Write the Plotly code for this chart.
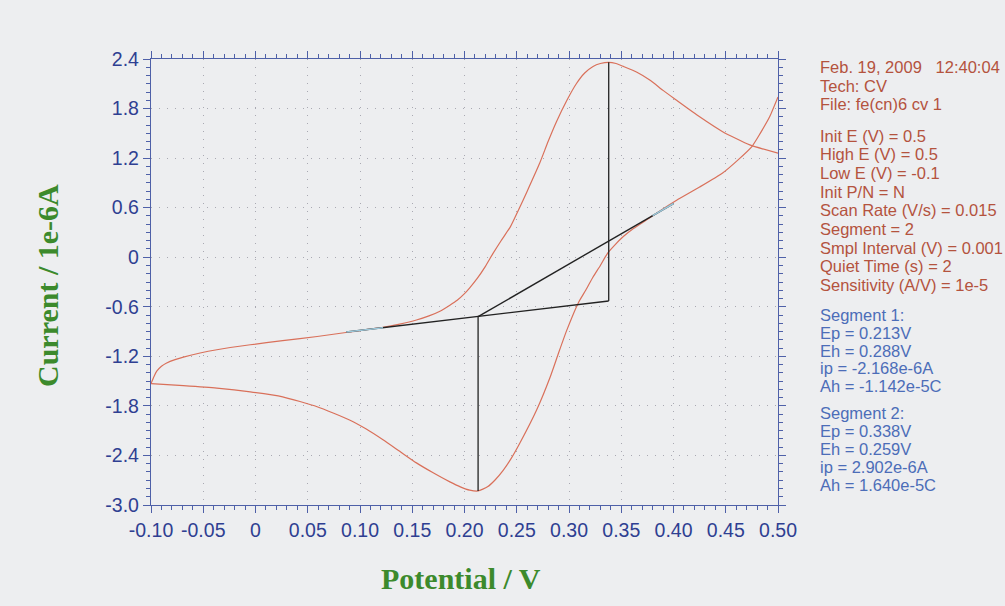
import plotly.graph_objects as go

# ---------------- data ----------------
# Segment 1 (scan 0.5 V -> -0.1 V), current in 1e-6 A
seg1_E = [0.500, 0.492, 0.483, 0.475, 0.461, 0.447, 0.425, 0.403, 0.388, 0.374, 0.362, 0.352,
          0.344, 0.337, 0.330, 0.323, 0.316, 0.309, 0.298, 0.290, 0.282, 0.269, 0.253, 0.245,
          0.237, 0.229, 0.222, 0.213, 0.205, 0.196, 0.186, 0.170, 0.154, 0.138, 0.122, 0.106,
          0.090, 0.059, 0.026, -0.005, -0.037, -0.069, -0.100]
seg1_I = [1.94, 1.70, 1.50, 1.34, 1.17, 1.02, 0.85, 0.69, 0.57, 0.45, 0.35, 0.25,
          0.15, 0.05, -0.10, -0.24, -0.40, -0.55, -0.88, -1.16, -1.45, -1.85, -2.25, -2.43,
          -2.58, -2.70, -2.78, -2.83, -2.82, -2.78, -2.72, -2.61, -2.49, -2.35, -2.21, -2.08,
          -1.97, -1.81, -1.69, -1.63, -1.585, -1.555, -1.53]

# Segment 2 (scan -0.1 V -> 0.5 V)
seg2_E = [-0.100, -0.097, -0.0945, -0.090, -0.085, -0.077, -0.069, -0.053, -0.037, -0.005,
          0.026, 0.059, 0.090, 0.122, 0.138, 0.154, 0.166, 0.177, 0.186, 0.193, 0.200, 0.205,
          0.212, 0.220, 0.227, 0.235, 0.244, 0.252, 0.260, 0.272, 0.280, 0.288, 0.298, 0.307,
          0.315, 0.323, 0.330, 0.338, 0.345, 0.352, 0.365, 0.378, 0.390, 0.403, 0.425, 0.447,
          0.473, 0.500]
seg2_I = [-1.53, -1.44, -1.38, -1.32, -1.28, -1.24, -1.21, -1.16, -1.12, -1.06,
          -1.01, -0.96, -0.905, -0.85, -0.81, -0.76, -0.71, -0.65, -0.58, -0.52, -0.44, -0.37,
          -0.26, -0.11, 0.04, 0.20, 0.37, 0.58, 0.80, 1.14, 1.40, 1.64, 1.90, 2.10,
          2.23, 2.31, 2.345, 2.36, 2.345, 2.31, 2.24, 2.14, 2.02, 1.90, 1.70, 1.52,
          1.36, 1.26]

# peak baselines (tangent lines) and peak markers
base2_E = [0.087, 0.338]          # baseline used for segment-2 peak
base2_I = [-0.905, -0.53]
base2_tangent_E = [0.087, 0.122]
base2_tangent_I = [-0.905, -0.853]
base1_E = [0.213, 0.400]          # baseline used for segment-1 peak
base1_I = [-0.72, 0.65]
base1_tangent_E = [0.380, 0.400]
base1_tangent_I = [0.503, 0.65]
peak_E = [0.213, 0.338]
peak_base_I = [-0.72, -0.53]
peak_I = [-2.83, 2.36]

x_ticks = [-0.10, -0.05, 0.0, 0.05, 0.10, 0.15, 0.20, 0.25, 0.30, 0.35, 0.40, 0.45, 0.50]
x_labels = ["-0.10", "-0.05", "0", "0.05", "0.10", "0.15", "0.20", "0.25", "0.30",
            "0.35", "0.40", "0.45", "0.50"]
y_ticks = [-3.0, -2.4, -1.8, -1.2, -0.6, 0.0, 0.6, 1.2, 1.8, 2.4]
y_labels = ["-3.0", "-2.4", "-1.8", "-1.2", "-0.6", "0", "0.6", "1.2", "1.8", "2.4"]

info_lines = ["Feb. 19, 2009   12:40:04", "Tech: CV", "File: fe(cn)6 cv 1"]
param_lines = ["Init E (V) = 0.5", "High E (V) = 0.5", "Low E (V) = -0.1", "Init P/N = N",
               "Scan Rate (V/s) = 0.015", "Segment = 2", "Smpl Interval (V) = 0.001",
               "Quiet Time (s) = 2", "Sensitivity (A/V) = 1e-5"]
seg1_lines = ["Segment 1:", "Ep = 0.213V", "Eh = 0.288V", "ip = -2.168e-6A", "Ah = -1.142e-5C"]
seg2_lines = ["Segment 2:", "Ep = 0.338V", "Eh = 0.259V", "ip = 2.902e-6A", "Ah = 1.640e-5C"]

# ---------------- style ----------------
BG = "#EDEEF0"
CURVE = "#D9705A"
AXIS = "#4E60A8"
TICKTXT = "#2F3F92"
GREEN = "#3C8A2C"
BROWN = "#B4533E"
BLUE = "#4C6DB8"

W, H = 1005, 606
L, R, T, B = 151, 227, 59, 101
pw, ph = W - L - R, H - T - B

fig = go.Figure()
curve_line = dict(color=CURVE, width=1.2, shape="spline", smoothing=0.5)
fig.add_trace(go.Scatter(x=seg1_E, y=seg1_I, mode="lines", line=curve_line))
fig.add_trace(go.Scatter(x=seg2_E, y=seg2_I, mode="lines", line=curve_line))
fig.add_trace(go.Scatter(x=base2_E, y=base2_I, mode="lines", line=dict(color="#222222", width=1.4)))
fig.add_trace(go.Scatter(x=base1_E, y=base1_I, mode="lines", line=dict(color="#222222", width=1.4)))
fig.add_trace(go.Scatter(x=base2_tangent_E, y=base2_tangent_I, mode="lines",
                         line=dict(color="#9CC8DA", width=1.6)))
fig.add_trace(go.Scatter(x=base1_tangent_E, y=base1_tangent_I, mode="lines",
                         line=dict(color="#9CC8DA", width=1.6)))
for e, b0, p in zip(peak_E, peak_base_I, peak_I):
    fig.add_trace(go.Scatter(x=[e, e], y=[b0, p], mode="lines",
                             line=dict(color="#222222", width=1.3)))

axis_common = dict(showline=True, linecolor=AXIS, linewidth=1.3, mirror="allticks",
                   ticks="outside", tickcolor=AXIS, tickwidth=1, ticklen=7,
                   showgrid=True, gridcolor="#A9A9B2", griddash="1px,7px", gridwidth=1.3,
                   zeroline=False, tickfont=dict(family="Liberation Sans, Arial", size=19.5,
                                                 color=TICKTXT))
fig.update_xaxes(range=[-0.10, 0.50], tickvals=x_ticks, ticktext=x_labels,
                 minor=dict(dtick=0.01, tick0=0, ticks="outside", ticklen=4,
                            tickcolor=AXIS, showgrid=False), **axis_common)
fig.update_yaxes(range=[-3.0, 2.4], tickvals=y_ticks, ticktext=y_labels,
                 minor=dict(dtick=0.1, tick0=0, ticks="outside", ticklen=4,
                            tickcolor=AXIS, showgrid=False), **axis_common)

def py2paper(py):
    return (H - B - py) / ph

def px2paper(px):
    return (px - L) / pw

ann = []
ann.append(dict(text="<b>Current / 1e-6A</b>", x=px2paper(47), y=py2paper(286), xref="paper",
                yref="paper", xanchor="center", yanchor="middle", showarrow=False,
                textangle=-90,
                font=dict(family="Liberation Serif, Times New Roman", size=30, color=GREEN)))
ann.append(dict(text="<b>Potential / V</b>", x=px2paper(461), y=py2paper(578), xref="paper",
                yref="paper", xanchor="center", yanchor="middle", showarrow=False,
                font=dict(family="Liberation Serif, Times New Roman", size=30, color=GREEN)))

def add_block(lines, y0, step, color):
    for i, s in enumerate(lines):
        ann.append(dict(text=s, x=px2paper(818), y=py2paper(y0 + i * step), xref="paper",
                        yref="paper", xanchor="left", yanchor="middle", showarrow=False,
                        font=dict(family="Liberation Sans, Arial", size=16.5, color=color)))

add_block(info_lines, 67, 18.5, BROWN)
add_block(param_lines, 135.5, 18.7, BROWN)
add_block(seg1_lines, 315, 17.8, BLUE)
add_block(seg2_lines, 413, 17.9, BLUE)

fig.update_layout(width=W, height=H, margin=dict(l=L, r=R, t=T, b=B),
                  paper_bgcolor=BG, plot_bgcolor=BG, showlegend=False,
                  annotations=ann)

fig.write_html("out.html", config={"displayModeBar": False},
               post_script="document.body.style.margin='0';"
                           "document.body.style.background='" + BG + "';")
